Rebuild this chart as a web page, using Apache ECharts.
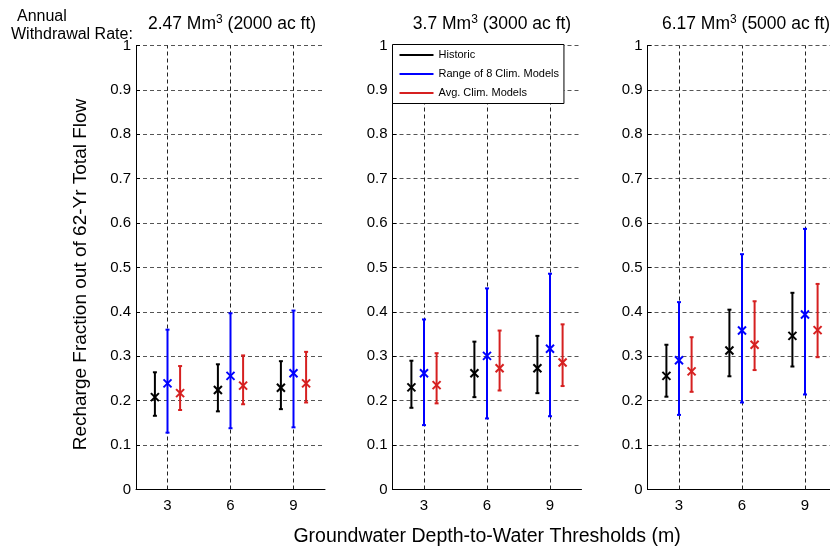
<!DOCTYPE html>
<html><head><meta charset="utf-8">
<script src="https://cdn.jsdelivr.net/npm/echarts@6/dist/echarts.min.js"></script>
<style>html,body{margin:0;padding:0;background:#fff;overflow:hidden;width:830px;height:552px}#c{width:845px;height:552px}</style>
</head><body><div id="c"></div>
<script>
// ---------- DATA ----------
const thresholds = [3, 6, 9];
const ratesMm3 = ['2.47', '3.7', '6.17'];
const ratesAcFt = ['2000', '3000', '5000'];
const seriesNames = ['Historic', 'Range of 8 Clim. Models', 'Avg. Clim. Models'];
const xTickLabels = ['3', '6', '9'];

// Historic: centre, low, high  (per panel, per threshold)
const historicMid = [[0.208, 0.224, 0.229], [0.230, 0.262, 0.273], [0.256, 0.313, 0.346]];
const historicLow = [[0.166, 0.176, 0.181], [0.184, 0.208, 0.217], [0.209, 0.255, 0.277]];
const historicHigh = [[0.264, 0.282, 0.289], [0.290, 0.333, 0.346], [0.326, 0.405, 0.443]];

// Range of 8 climate models
const rangeMid = [[0.239, 0.256, 0.262], [0.262, 0.301, 0.317], [0.291, 0.358, 0.394]];
const rangeLow = [[0.128, 0.138, 0.140], [0.145, 0.160, 0.165], [0.168, 0.196, 0.214]];
const rangeHigh = [[0.360, 0.397, 0.403], [0.383, 0.453, 0.486], [0.422, 0.530, 0.587]];

// Average of climate models
const avgMid = [[0.217, 0.234, 0.239], [0.235, 0.273, 0.286], [0.266, 0.326, 0.359]];
const avgLow = [[0.179, 0.192, 0.196], [0.194, 0.223, 0.233], [0.220, 0.269, 0.298]];
const avgHigh = [[0.278, 0.302, 0.310], [0.307, 0.358, 0.372], [0.343, 0.424, 0.463]];

// ---------- CHART ----------
const FONT = '"Liberation Sans", Arial, sans-serif';
const colors = ['#000000', '#0000ff', '#d62020'];
const offsets = [-0.6, 0, 0.6];
const mids = [historicMid, rangeMid, avgMid];
const lows = [historicLow, rangeLow, avgLow];
const highs = [historicHigh, rangeHigh, avgHigh];

const gridLefts = [136, 392.5, 647.5];
const gridTop = 45.5, gridH = 444, gridW = 189;
const titleCenters = [227, 487, 741];

function renderItem(params, api) {
  const x = api.value(0);
  const pm = api.coord([x, api.value(1)]);
  const pl = api.coord([x, api.value(2)]);
  const ph = api.coord([x, api.value(3)]);
  const c = api.visual('color');
  const st = { stroke: c, lineWidth: 2, fill: null };
  const cap = 2, s = 4;
  return {
    type: 'group',
    children: [
      { type: 'line', shape: { x1: pl[0], y1: pl[1], x2: ph[0], y2: ph[1] }, style: st },
      { type: 'line', shape: { x1: pl[0] - cap, y1: pl[1], x2: pl[0] + cap, y2: pl[1] }, style: st },
      { type: 'line', shape: { x1: ph[0] - cap, y1: ph[1], x2: ph[0] + cap, y2: ph[1] }, style: st },
      { type: 'line', shape: { x1: pm[0] - s, y1: pm[1] - s, x2: pm[0] + s, y2: pm[1] + s }, style: st },
      { type: 'line', shape: { x1: pm[0] - s, y1: pm[1] + s, x2: pm[0] + s, y2: pm[1] - s }, style: st }
    ]
  };
}

const grids = [], xAxes = [], yAxes = [], series = [], titles = [];
for (let p = 0; p < 3; p++) {
  grids.push({ left: gridLefts[p], top: gridTop, width: gridW, height: gridH, containLabel: false });
  xAxes.push({
    type: 'value', gridIndex: p, min: 1.5, max: 10.5, interval: 1.5,
    axisLine: { show: true, onZero: false, lineStyle: { color: '#000', width: 1 } },
    axisTick: { show: false },
    splitLine: { show: false },
    axisLabel: {
      color: '#000', fontFamily: FONT, fontSize: 15, margin: 9,
      showMinLabel: true, showMaxLabel: true,
      formatter: v => { const i = thresholds.indexOf(v); return i >= 0 ? xTickLabels[i] : ''; }
    },
    name: p === 1 ? 'Groundwater Depth-to-Water Thresholds (m)' : '',
    nameLocation: 'middle', nameGap: 37,
    nameTextStyle: { color: '#000', fontFamily: FONT, fontSize: 19.5 }
  });
  yAxes.push({
    type: 'value', gridIndex: p, min: 0, max: 1, interval: 0.1,
    axisLine: { show: true, lineStyle: { color: '#000', width: 1 } },
    axisTick: { show: true, inside: true, length: 4, lineStyle: { color: '#000' } },
    splitLine: { show: true, lineStyle: { color: '#555', type: [4, 3], width: 1 } },
    axisLabel: { color: '#000', fontFamily: FONT, fontSize: 15, margin: 5,
      formatter: v => String(Math.round(v * 10) / 10) },
    name: p === 0 ? 'Recharge Fraction out of 62-Yr Total Flow' : '',
    nameLocation: 'middle', nameGap: 46, nameRotate: 90,
    nameTextStyle: { color: '#000', fontFamily: FONT, fontSize: 19, padding: [0, 14, 0, 0] }
  });
  titles.push({
    text: ratesMm3[p] + ' Mm{sup|3} (' + ratesAcFt[p] + ' ac ft)',
    left: titleCenters[p], top: 9, textAlign: 'center',
    textStyle: { color: '#000', fontFamily: FONT, fontSize: 17.5, fontWeight: 'normal',
      rich: { sup: { fontFamily: FONT, fontSize: 12, verticalAlign: 'top', padding: [0, 0, 9, 0], color: '#000' } } }
  });
  for (let k = 0; k < 3; k++) {
    const data = thresholds.map((t, i) => [t + offsets[k], mids[k][p][i], lows[k][p][i], highs[k][p][i]]);
    const s = {
      type: 'custom', name: seriesNames[k], xAxisIndex: p, yAxisIndex: p,
      color: colors[k], itemStyle: { color: colors[k] },
      renderItem: renderItem, data: data, z: 5, clip: false,
      encode: { x: 0, y: [1, 2, 3] }
    };
    if (k === 0) {
      s.markLine = {
        silent: true, symbol: 'none', z: 1,
        label: { show: false },
        lineStyle: { color: '#222', type: [4, 3], width: 1 },
        emphasis: { disabled: true },
        data: thresholds.map(t => ({ xAxis: t }))
      };
    }
    series.push(s);
  }
}

titles.push({
  text: 'Annual', left: 12, top: 4,
  textStyle: { color: '#000', fontFamily: FONT, fontSize: 16, fontWeight: 'normal' }
});
titles.push({
  text: 'Withdrawal Rate:', left: 6, top: 22,
  textStyle: { color: '#000', fontFamily: FONT, fontSize: 16, fontWeight: 'normal' }
});

const chart = echarts.init(document.getElementById('c'), null, { renderer: 'canvas' });
chart.setOption({
  animation: false,
  backgroundColor: '#fff',
  title: titles,
  grid: grids,
  xAxis: xAxes,
  yAxis: yAxes,
  legend: {
    orient: 'vertical', left: 392.5, top: 44.5,
    backgroundColor: '#fff', borderColor: '#000', borderWidth: 1, borderRadius: 0,
    padding: [3, 5, 3, 7], itemGap: 4, itemWidth: 34, itemHeight: 2,
    icon: 'rect', selectedMode: false,
    textStyle: { color: '#000', fontFamily: FONT, fontSize: 11, lineHeight: 15, padding: [0, 0, 0, 0] },
    data: seriesNames.map((n, k) => ({ name: n, itemStyle: { color: colors[k] } }))
  },
  series: series
});
</script></body></html>
